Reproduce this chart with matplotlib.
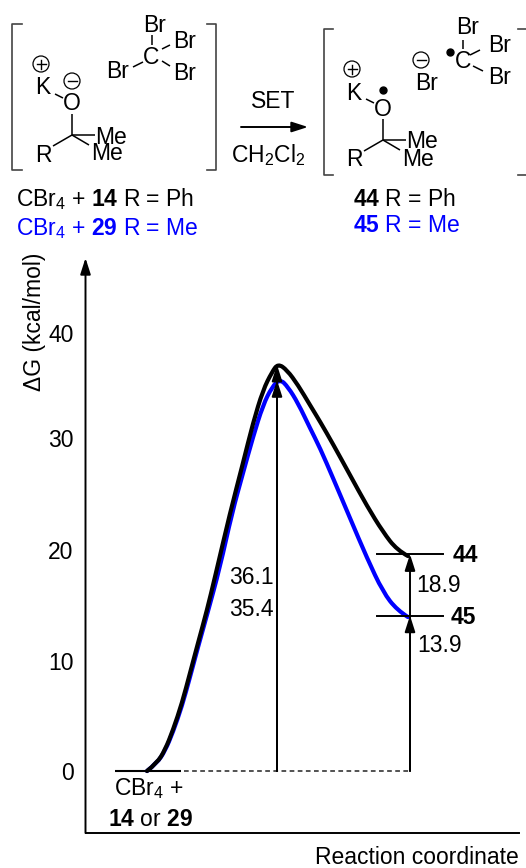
import matplotlib
matplotlib.use("Agg")
import matplotlib.pyplot as plt
from matplotlib.patches import Circle, PathPatch
from matplotlib.path import Path

plt.rcParams['font.family'] = ['Liberation Sans', 'DejaVu Sans']
plt.rcParams['mathtext.fontset'] = 'custom'
plt.rcParams['mathtext.rm'] = 'Liberation Sans'
plt.rcParams['mathtext.bf'] = 'Liberation Sans:bold'
plt.rcParams['mathtext.default'] = 'regular'

# reaction coordinate has no units, x runs along the axis from 85 to 519
rc_black = [147, 157, 165, 173, 182, 190, 198, 207, 215, 230, 243, 253, 263, 272, 278,
            287, 298, 310, 320, 333, 350, 367, 383, 397, 408]
dg_black = [0, 0.73, 1.92, 3.74, 6.21, 8.95, 11.69, 14.7, 17.72, 23.56, 28.13, 31.78, 34.79, 36.44, 37.2,
            36.62, 35.25, 33.42, 31.92, 29.86, 27.03, 24.2, 21.83, 20.18, 19.63]
rc_blue = [147, 157, 165, 173, 182, 190, 198, 207, 220, 232, 243, 253, 263, 272, 280,
           288, 298, 310, 320, 333, 350, 367, 383, 397, 408]
dg_blue = [0, 0.73, 1.83, 3.56, 5.94, 8.58, 11.32, 14.25, 18.63, 23.56, 27.21, 30.5, 33.42, 35.07, 35.8,
           35.07, 33.6, 31.32, 29.5, 26.76, 23.1, 19.45, 16.35, 14.7, 14.06]
y_tick_pos = [0, 10.05, 20.2, 30.4, 40]
y_tick_labels = ['0', '10', '20', '30', '40']
level_44 = 19.8
level_45 = 14.2
ts_rc = 277
prod_rc = 410

FS = 16.5
BLUE = '#0000ff'

fig = plt.figure(figsize=(5.26, 8.68), dpi=100)
ax = fig.add_axes([85.5/526, 35/868, 433.5/526, 575/868])
ax.set_xlim(85.5, 519)
ax.set_ylim(-5.66, 46.85)
ax.spines['top'].set_visible(False)
ax.spines['right'].set_visible(False)
ax.spines['left'].set_visible(False)
ax.spines['bottom'].set_linewidth(1.4)
ax.set_xticks([])
ax.set_yticks(y_tick_pos)
ax.set_yticklabels(y_tick_labels)
ax.tick_params(axis='y', length=0, pad=8.5, labelsize=FS)
ax.patch.set_alpha(0)

def arrow(a, x0, y0, x1, y1, coords='data', ms=13, lw=1.4):
    a.annotate('', xy=(x1, y1), xytext=(x0, y0), xycoords=coords, textcoords=coords,
               arrowprops=dict(arrowstyle='-|>,head_width=0.24,head_length=0.75', color='k',
                               lw=lw, shrinkA=0, shrinkB=0, mutation_scale=ms))

def smooth_curve(a, xs, ys, color):
    # the read points are the control points of a quadratic spline
    verts = [(xs[0], ys[0])]
    codes = [Path.MOVETO]
    for i in range(1, len(xs) - 1):
        verts.append((xs[i], ys[i]))
        codes.append(Path.CURVE3)
        if i < len(xs) - 2:
            verts.append(((xs[i] + xs[i + 1]) / 2, (ys[i] + ys[i + 1]) / 2))
        else:
            verts.append((xs[-1], ys[-1]))
        codes.append(Path.CURVE3)
    a.add_patch(PathPatch(Path(verts, codes), fc='none', ec=color, lw=3, capstyle='round', joinstyle='round'))

# y axis with its arrow head
arrow(ax, 0, 0, 0, 1.0, coords='axes fraction')

# levels
ax.plot([115, 181], [0, 0], color='k', lw=1.5, solid_capstyle='butt')
ax.plot([184, prod_rc], [0, 0], color='#444444', lw=1.3, dashes=(2.6, 1.9))
ax.plot([377, 443], [level_44, level_44], color='k', lw=1.4)
ax.plot([377, 443], [level_45, level_45], color='k', lw=1.4)

# curves
smooth_curve(ax, rc_blue, dg_blue, BLUE)
smooth_curve(ax, rc_black, dg_black, 'k')

# energy arrows
arrow(ax, ts_rc, 0, ts_rc, dg_blue[14] - 0.1)
arrow(ax, ts_rc, 0, ts_rc, dg_black[14] - 0.1)
arrow(ax, prod_rc, 0, prod_rc, level_45)
arrow(ax, prod_rc, 0, prod_rc, level_44)

# overlay in picture pixels for the schemes and labels
ov = fig.add_axes([0, 0, 1, 1])
ov.set_xlim(0, 526)
ov.set_ylim(868, 0)
ov.axis('off')
ov.patch.set_alpha(0)

def txt(x, y, s, color='k', ha='center', size=FS, **kw):
    ov.text(x, y, s, color=color, ha=ha, va='center', fontsize=size, **kw)

def bond(x0, y0, x1, y1):
    ov.plot([x0, x1], [y0, y1], color='k', lw=1.1, solid_capstyle='butt')

def bracket(x_out, x_in, y0, y1):
    ov.plot([x_in, x_out, x_out, x_in], [y0, y0, y1, y1], color='#444444', lw=1.2)

def charge(x, y, sign):
    ov.add_patch(Circle((x, y), 8, fc='white', ec='k', lw=0.9))
    ov.plot([x - 4.5, x + 4.5], [y, y], color='k', lw=1)
    if sign == '+':
        ov.plot([x, x], [y - 4.5, y + 4.5], color='k', lw=1)

def alkoxide(dx, dy):
    txt(43 + dx, 88 + dy, 'K')
    txt(72 + dx, 104 + dy, 'O')
    txt(43 + dx, 155 + dy, 'R')
    txt(111 + dx, 137 + dy, 'Me')
    txt(107 + dx, 154 + dy, 'Me')
    bond(55 + dx, 94 + dy, 63 + dx, 98 + dy)
    bond(72 + dx, 114 + dy, 72 + dx, 135 + dy)
    bond(72 + dx, 135 + dy, 53 + dx, 146 + dy)
    bond(72 + dx, 135 + dy, 95 + dx, 135 + dy)
    bond(72 + dx, 135 + dy, 89 + dx, 145 + dy)

# left scheme
bracket(12, 22, 24, 170)
bracket(216, 207, 24, 170)
alkoxide(0, 0)
charge(41, 64, '+')
charge(72, 81, '-')
txt(155, 25, 'Br')
txt(151, 57, 'C')
txt(185, 41, 'Br')
txt(185, 73, 'Br')
txt(118, 72, 'Br')
bond(152, 35, 152, 45)
bond(162, 49, 170, 45)
bond(162, 61, 170, 66)
bond(133, 67, 143, 62)
txt(16, 199, r'CBr$_4$ + $\mathbf{14}$ R = Ph', ha='left')
txt(16, 229, r'CBr$_4$ + $\mathbf{29}$ R = Me', color=BLUE, ha='left')

# reaction arrow
arrow(ov, 241, 127, 308, 127)
txt(273, 102, 'SET')
txt(268, 155, r'CH$_2$Cl$_2$')

# right scheme
bracket(324, 333, 29, 175)
ov.plot([518, 526], [29, 29], color='#444444', lw=1.2)
ov.plot([518, 526], [175, 175], color='#444444', lw=1.2)
alkoxide(311, 5)
charge(352, 69, '+')
charge(421, 60, '-')
ov.plot([383], [90], 'o', color='k', ms=5)
ov.plot([450], [52], 'o', color='k', ms=5)
txt(427, 83, 'Br')
txt(463, 62, 'C')
txt(468, 28, 'Br')
txt(500, 45, 'Br')
txt(500, 78, 'Br')
bond(463, 40, 463, 49)
bond(470, 55, 480, 50)
bond(473, 66, 483, 71)
txt(353, 199, r'$\mathbf{44}$ R = Ph', ha='left')
txt(353, 226, r'$\mathbf{45}$ R = Me', color=BLUE, ha='left')

# chart labels
txt(34, 322, '\u0394G (kcal/mol)', rotation=90)
txt(251, 577, '36.1')
txt(251, 609, '35.4')
txt(439, 586, '18.9')
txt(440, 645, '13.9')
txt(465, 555, '44', fontweight='bold')
txt(463, 618, '45', fontweight='bold')
txt(149, 789, r'CBr$_4$ +')
txt(150, 820, r'$\mathbf{14}$ or $\mathbf{29}$')
txt(519, 858, 'Reaction coordinate', ha='right')

fig.savefig('out.png', dpi=100)
